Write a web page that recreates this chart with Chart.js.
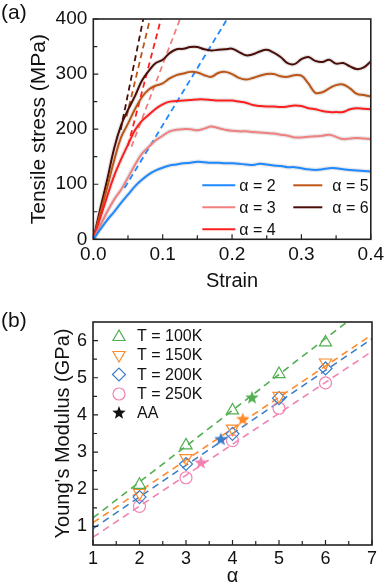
<!DOCTYPE html>
<html>
<head>
<meta charset="utf-8">
<script src="https://cdn.jsdelivr.net/npm/chart.js@4.4.1/dist/chart.umd.min.js"></script>
<style>
  html, body { margin: 0; padding: 0; background: #fff; }
  #wrap { position: relative; width: 388px; height: 588px; overflow: hidden; font-family: "Liberation Sans", Arial, sans-serif; }
  canvas { position: absolute; left: 0; }
  .panel { position: absolute; left: 1px; font-size: 21px; line-height: 24px; color: #111; }
</style>
</head>
<body>
<div id="wrap">
  <canvas id="chartA" width="388" height="296" style="top:0"></canvas>
  <canvas id="chartB" width="388" height="292" style="top:296px"></canvas>
  <div class="panel" style="top:0px">(a)</div>
  <div class="panel" style="top:308px">(b)</div>
</div>
<script>
// ---------- panel (a): tensile stress vs strain ----------
const strain = [0, 0.01, 0.02, 0.03, 0.04, 0.05, 0.06, 0.07, 0.08, 0.09, 0.10,
  0.11, 0.12, 0.13, 0.14, 0.15, 0.16, 0.17, 0.18, 0.19, 0.20,
  0.21, 0.22, 0.23, 0.24, 0.25, 0.26, 0.27, 0.28, 0.29, 0.30,
  0.31, 0.32, 0.33, 0.34, 0.35, 0.36, 0.37, 0.38, 0.39, 0.40];

const stressA2 = [0, 18, 35, 50, 66, 81, 96, 108, 118, 125, 130,
  134, 136, 138, 139, 141, 140, 139, 139, 138, 138,
  137, 136, 135, 137, 136, 134, 133, 131, 131, 129,
  127, 126, 127, 129, 129, 127, 126, 125, 124, 123];
const stressA3 = [0, 25, 50, 72, 90, 112, 135, 155, 168, 180, 188,
  196, 199, 200, 200, 198, 201, 205, 202, 199, 197,
  196, 196, 195, 194, 193, 192, 190, 188, 185, 185,
  186, 187, 188, 190, 186, 182, 183, 184, 183, 182];
const stressA4 = [0, 39, 78, 115, 145, 172, 198, 215, 226, 237, 245,
  250, 251, 252, 253, 254, 254, 253, 252, 252, 252,
  250, 248, 244, 242, 241, 241, 240, 241, 243, 242,
  238, 236, 233, 231, 231, 231, 236, 238, 237, 236];
const stressA5 = [0, 47, 94, 143, 185, 210, 236, 258, 272, 279, 283,
  292, 298, 301, 304, 303, 298, 295, 302, 304, 300,
  293, 290, 293, 297, 300, 300, 296, 295, 298, 297,
  283, 266, 267, 274, 280, 281, 274, 264, 262, 259];
const stressA6 = [0, 55, 108, 165, 207, 235, 260, 288, 306, 320, 326,
  338, 345, 346, 349, 349, 345, 343, 344, 345, 346,
  340, 334, 336, 341, 344, 339, 331, 320, 318, 327,
  331, 324, 322, 326, 319, 320, 314, 309, 312, 323];

// dashed linear fits (start and end)
const fitStrainA2 = [0.045, 0.193];
const fitStressA2 = [93, 400];
const fitStrainA3 = [0.055, 0.125];
const fitStressA3 = [168, 400];
const fitStrainA4 = [0.05, 0.0975];
const fitStressA4 = [170, 400];
const fitStrainA5 = [0.048, 0.0817];
const fitStressA5 = [223, 400];
const fitStrainA6 = [0.0395, 0.072];
const fitStressA6 = [199, 400];

const labelsA = ["α = 2", "α = 3", "α = 4", "α = 5", "α = 6"];
const colorsA = ["#1E88FF", "#F08080", "#FF1E1E", "#BE5514", "#4A0D08"];
const xTicksA = [0, 0.1, 0.2, 0.3, 0.4];
const yTicksA = [0, 100, 200, 300, 400];
const xMinorA = [0.05, 0.15, 0.25, 0.35];
const yMinorA = [50, 150, 250, 350];

// ---------- panel (b): Young's modulus vs alpha ----------
const alphaB = [2, 3, 4, 5, 6];
const modulus100 = [2.12, 3.18, 4.12, 5.1, 5.95];
const modulus150 = [1.9, 2.84, 3.63, 4.51, 5.41];
const modulus200 = [1.79, 2.68, 3.49, 4.45, 5.25];
const modulus250 = [1.54, 2.31, 3.31, 4.18, 4.86];
const aaAlpha = [4.42, 4.22, 3.75, 3.32];
const aaModulus = [4.46, 3.88, 3.34, 2.71];
const fitAlphaB = [1, 7];
const fit100 = [1.23, 7.02];
const fit150 = [1.1, 6.16];
const fit200 = [0.94, 6.05];
const fit250 = [0.71, 5.71];

const labelsB = ["T = 100K", "T = 150K", "T = 200K", "T = 250K", "AA"];
const colorsB = ["#52AE52", "#FF8A2A", "#3C7DC8", "#F282B2", "#111111"];
const xTicksB = [1, 2, 3, 4, 5, 6, 7];
const yTicksB = [1, 2, 3, 4, 5, 6];
const xMinorB = [1.5, 2.5, 3.5, 4.5, 5.5, 6.5];
const yMinorB = [1.5, 2.5, 3.5, 4.5, 5.5];

const FONT = '"Liberation Sans", Arial, sans-serif';

function pts(xs, ys) {
  return xs.map((x, i) => ({ x: x, y: ys[i] }));
}

// filled five point star as a point image
function starImage(color, r) {
  const c = document.createElement("canvas");
  c.width = c.height = Math.ceil(2 * r + 2);
  const g = c.getContext("2d");
  g.fillStyle = color;
  g.beginPath();
  for (let i = 0; i < 10; i++) {
    const rad = i % 2 === 0 ? r : r * 0.42;
    const ang = -Math.PI / 2 + i * Math.PI / 5;
    g.lineTo(c.width / 2 + rad * Math.cos(ang), c.height / 2 + rad * Math.sin(ang));
  }
  g.closePath();
  g.fill();
  return c;
}

// box around the plot plus inward ticks on bottom and left
const framePlugin = {
  id: "frame",
  afterDraw(chart, args, opts) {
    const { ctx, chartArea: ca, scales } = chart;
    ctx.save();
    ctx.strokeStyle = "#222";
    ctx.lineWidth = 1.2;
    ctx.beginPath();
    const mark = (vals, len) => {
      vals.forEach(v => {
        const x = scales.x.getPixelForValue(v);
        ctx.moveTo(x, ca.bottom);
        ctx.lineTo(x, ca.bottom - len);
      });
    };
    const markY = (vals, len) => {
      vals.forEach(v => {
        const y = scales.y.getPixelForValue(v);
        ctx.moveTo(ca.left, y);
        ctx.lineTo(ca.left + len, y);
      });
    };
    mark(opts.xMajor, 5);
    mark(opts.xMinor, 4);
    markY(opts.yMajor, 5);
    markY(opts.yMinor, 4);
    ctx.stroke();
    ctx.lineWidth = 1.6;
    ctx.strokeRect(ca.left, ca.top, ca.right - ca.left, ca.bottom - ca.top);
    ctx.restore();
  }
};

// two column legend of panel (a)
const legendA = {
  id: "legendA",
  afterDraw(chart) {
    const { ctx, chartArea: ca } = chart;
    const spots = [[109, 142, 146, -54], [109, 142, 146, -32], [109, 142, 146, -10],
                   [200, 229, 239, -54], [200, 229, 239, -32]];
    ctx.save();
    ctx.font = "16px " + FONT;
    ctx.textBaseline = "middle";
    ctx.fillStyle = "#111";
    labelsA.forEach((lab, i) => {
      const s = spots[i];
      const y = ca.bottom + s[3];
      ctx.strokeStyle = colorsA[i];
      ctx.lineWidth = 2;
      ctx.beginPath();
      ctx.moveTo(ca.left + s[0], y);
      ctx.lineTo(ca.left + s[1], y);
      ctx.stroke();
      ctx.fillText(lab, ca.left + s[2], y + 1);
    });
    ctx.restore();
  }
};

const stars = [starImage(colorsB[0], 7), starImage(colorsB[1], 7), starImage(colorsB[2], 7), starImage(colorsB[3], 7)];
const blackStar = starImage(colorsB[4], 7);

// legend of panel (b)
const legendB = {
  id: "legendB",
  afterDraw(chart) {
    const { ctx, chartArea: ca } = chart;
    const marks = [
      { pointStyle: "triangle", radius: 7, rotation: 0 },
      { pointStyle: "triangle", radius: 7, rotation: 180 },
      { pointStyle: "rectRot", radius: 6.5, rotation: 0 },
      { pointStyle: "circle", radius: 6, rotation: 0 },
      { pointStyle: blackStar, radius: 7, rotation: 0 }
    ];
    const rows = [14, 33, 52.5, 72, 91];
    ctx.save();
    ctx.font = "16px " + FONT;
    ctx.textBaseline = "middle";
    labelsB.forEach((lab, i) => {
      const y = ca.top + rows[i];
      ctx.strokeStyle = colorsB[i];
      ctx.fillStyle = "rgba(0,0,0,0)";
      ctx.lineWidth = 1.2;
      Chart.helpers.drawPoint(ctx, Object.assign({ borderWidth: 1.2 }, marks[i]), ca.left + 26, y + (i === 0 ? 1 : 0));
      ctx.fillStyle = "#111";
      ctx.fillText(lab, ca.left + 44, y + 1);
    });
    ctx.restore();
  }
};

// ---------- chart (a) ----------
const fitsA = [[fitStrainA2, fitStressA2], [fitStrainA3, fitStressA3], [fitStrainA4, fitStressA4],
               [fitStrainA5, fitStressA5], [fitStrainA6, fitStressA6]];
const curvesA = [stressA2, stressA3, stressA4, stressA5, stressA6];

const datasetsA = [];
curvesA.forEach((ys, i) => {
  datasetsA.push({
    label: labelsA[i],
    data: pts(strain, ys),
    showLine: true, borderColor: colorsA[i], borderWidth: 2,
    pointRadius: 0, tension: 0.4, order: 1
  });
  // faint grey band standing in for the raw, noisy trace
  datasetsA.push({
    label: labelsA[i] + " raw",
    data: pts(strain, ys),
    showLine: true, borderColor: "rgba(175,175,175,0.3)", borderWidth: 4.5,
    pointRadius: 0, tension: 0.4, order: 3
  });
  datasetsA.push({
    label: labelsA[i] + " fit",
    data: pts(fitsA[i][0], fitsA[i][1]),
    showLine: true, borderColor: colorsA[i], borderWidth: 1.8, borderDash: [6, 4],
    pointRadius: 0, order: 2
  });
});

new Chart(document.getElementById("chartA"), {
  type: "scatter",
  data: { datasets: datasetsA },
  options: {
    responsive: false,
    animation: false,
    devicePixelRatio: 1,
    layout: { padding: { top: 19, right: 16.5, left: 0, bottom: 0 } },
    plugins: {
      legend: { display: false },
      tooltip: { enabled: false },
      frame: { xMajor: xTicksA, xMinor: xMinorA, yMajor: yTicksA, yMinor: yMinorA }
    },
    scales: {
      x: {
        type: "linear", min: 0, max: 0.4,
        grid: { display: false, drawTicks: false },
        border: { display: false },
        afterBuildTicks: axis => { axis.ticks = xTicksA.map(v => ({ value: v })); },
        afterFit: axis => { axis.height = 56.7; },
        ticks: { autoSkip: false, maxRotation: 0, padding: 4, color: "#111",
                 font: { family: FONT, size: 19 }, callback: v => v.toFixed(1) },
        title: { display: true, text: "Strain", color: "#111",
                 font: { family: FONT, size: 20 }, padding: { top: 0, bottom: 3 } }
      },
      y: {
        type: "linear", min: 0, max: 400,
        grid: { display: false, drawTicks: false },
        border: { display: false },
        afterBuildTicks: axis => { axis.ticks = yTicksA.map(v => ({ value: v })); },
        afterFit: axis => { axis.width = 93.3; },
        ticks: { autoSkip: false, padding: 6, color: "#111",
                 font: { family: FONT, size: 19 }, callback: v => String(v) },
        title: { display: true, text: "Tensile stress (MPa)", color: "#111",
                 font: { family: FONT, size: 21 }, padding: { top: 27, bottom: 0 } }
      }
    }
  },
  plugins: [framePlugin, legendA]
});

// ---------- chart (b) ----------
const fitsB = [fit100, fit150, fit200, fit250];
const seriesB = [modulus100, modulus150, modulus200, modulus250];
const stylesB = [
  { pointStyle: "triangle", pointRadius: 7, pointRotation: 0 },
  { pointStyle: "triangle", pointRadius: 7, pointRotation: 180 },
  { pointStyle: "rectRot", pointRadius: 6.5, pointRotation: 0 },
  { pointStyle: "circle", pointRadius: 6, pointRotation: 0 }
];

const datasetsB = [];
seriesB.forEach((ys, i) => {
  datasetsB.push(Object.assign({
    label: labelsB[i],
    data: pts(alphaB, ys),
    showLine: false,
    borderColor: colorsB[i], backgroundColor: "rgba(0,0,0,0)",
    pointBorderWidth: 1.2, order: 1
  }, stylesB[i]));
  datasetsB.push({
    label: labelsB[i] + " fit",
    data: pts(fitAlphaB, fitsB[i]),
    showLine: true, borderColor: colorsB[i], borderWidth: 1.6, borderDash: [7, 5],
    pointRadius: 0, order: 2
  });
});
datasetsB.push({
  label: "AA",
  data: pts(aaAlpha, aaModulus),
  showLine: false,
  pointStyle: stars, pointRadius: 7, order: 0
});

new Chart(document.getElementById("chartB"), {
  type: "scatter",
  data: { datasets: datasetsB },
  options: {
    responsive: false,
    animation: false,
    devicePixelRatio: 1,
    layout: { padding: { top: 26, right: 16, left: 0, bottom: 0 } },
    plugins: {
      legend: { display: false },
      tooltip: { enabled: false },
      frame: { xMajor: xTicksB, xMinor: xMinorB, yMajor: yTicksB, yMinor: yMinorB }
    },
    scales: {
      x: {
        type: "linear", min: 1, max: 7,
        grid: { display: false, drawTicks: false },
        border: { display: false },
        afterBuildTicks: axis => { axis.ticks = xTicksB.map(v => ({ value: v })); },
        afterFit: axis => { axis.height = 43; },
        ticks: { autoSkip: false, maxRotation: 0, padding: 3, color: "#111",
                 font: { family: FONT, size: 18 }, callback: v => String(v) },
        title: { display: true, text: "α", color: "#111",
                 font: { family: FONT, size: 20 }, padding: { top: 0, bottom: 0 } }
      },
      y: {
        type: "linear", min: 0.5, max: 6.5,
        grid: { display: false, drawTicks: false },
        border: { display: false },
        afterBuildTicks: axis => { axis.ticks = yTicksB.map(v => ({ value: v })); },
        afterFit: axis => { axis.width = 93; },
        ticks: { autoSkip: false, padding: 6, color: "#111",
                 font: { family: FONT, size: 18 }, callback: v => String(v) },
        title: { display: true, text: "Young's Modulus (GPa)", color: "#111",
                 font: { family: FONT, size: 20 }, padding: { top: 51, bottom: 0 } }
      }
    }
  },
  plugins: [framePlugin, legendB]
});
</script>
</body>
</html>
